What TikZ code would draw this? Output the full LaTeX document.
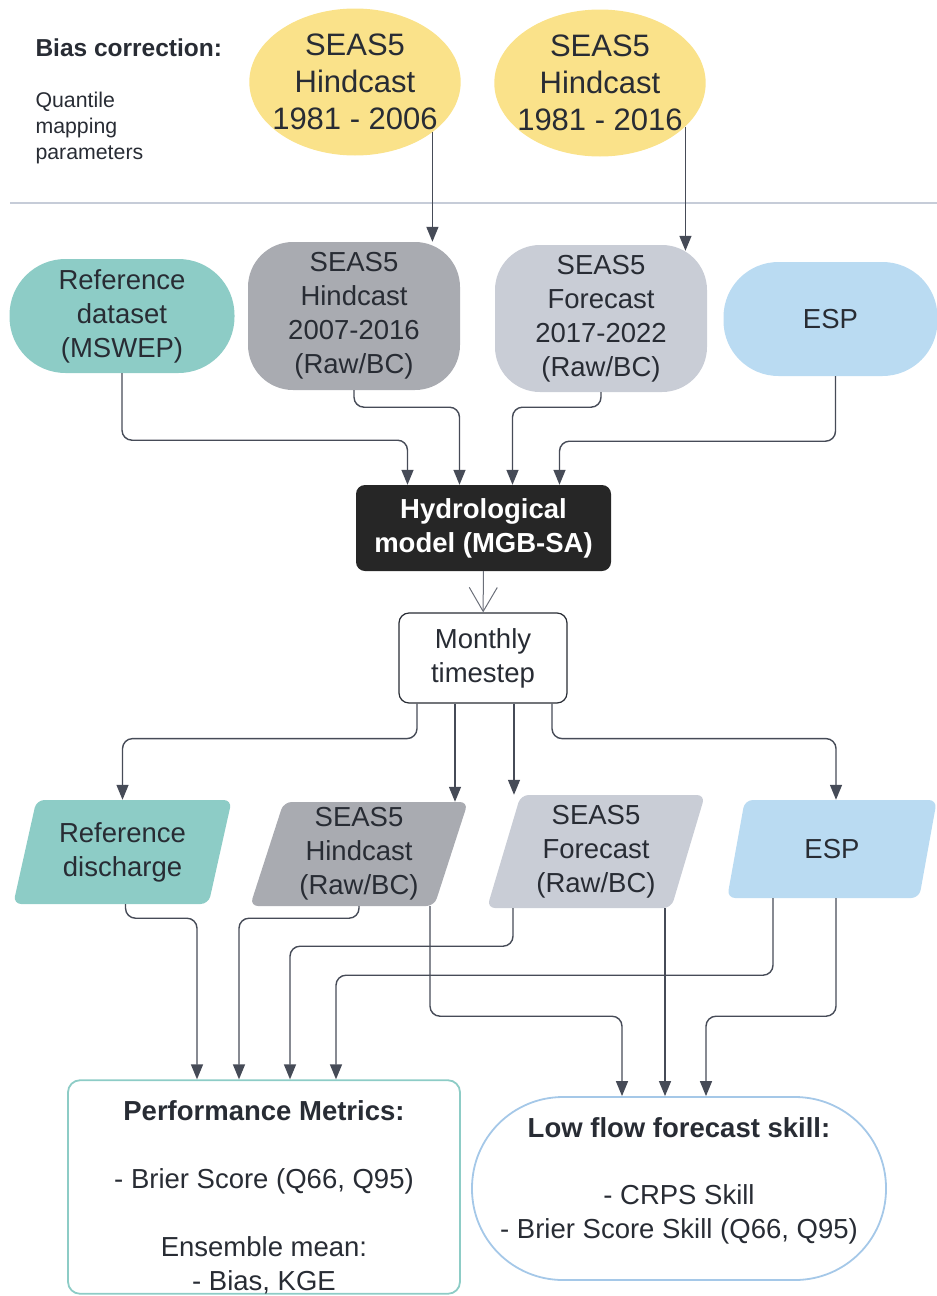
\documentclass[tikz,border=0pt]{standalone}
\usepackage{fontspec}
\setmainfont{Liberation Sans}
\usetikzlibrary{arrows.meta,shapes.geometric}
\definecolor{yelq}{RGB}{250,226,138}
\definecolor{tealq}{RGB}{141,204,198}
\definecolor{greyq}{RGB}{169,171,177}
\definecolor{lgreyq}{RGB}{201,205,214}
\definecolor{blueq}{RGB}{186,219,242}
\definecolor{lblueq}{RGB}{165,200,232}
\definecolor{txtq}{RGB}{40,44,52}
\definecolor{arrq}{RGB}{70,75,87}
\definecolor{sepq}{RGB}{198,204,216}
\newcommand{\mtxt}{\fontsize{27.5}{34}\selectfont}
\tikzstyle{ocal}=[ellipse,fill=yelq,minimum height=147pt,inner xsep=-8pt,inner ysep=0pt,align=center,text=txtq,font=\fontsize{31}{37}\selectfont]
\tikzstyle{idata}=[rectangle,inner sep=0pt,align=center,text=txtq,font=\mtxt]
\tikzstyle{odata}=[trapezium,trapezium left angle=74,trapezium right angle=106,trapezium stretches=true,rounded corners=8pt,inner sep=0pt,align=center,text=txtq,font=\mtxt]
\tikzstyle{flow}=[-{Triangle[length=15pt,width=12pt]},draw=arrq,line width=1.4pt,rounded corners=10pt]

\begin{document}
\begin{tikzpicture}[x=1pt,y=1pt]
\useasboundingbox (0,0) rectangle (937,-1296);
% bias correction
\node[anchor=west,text=txtq,font=\fontsize{24.5}{30}\selectfont\bfseries] (bias) at (32,-48) {Bias correction:};
\node[anchor=west,align=left,text=txtq,font=\fontsize{21.3}{26}\selectfont] (qmap) at (32,-128) {Quantile\\mapping\\parameters};
\node[ocal] (hc1) at (355,-82) {SEAS5\\Hindcast\\1981 - 2006};
\node[ocal] (hc2) at (600,-83) {SEAS5\\Hindcast\\1981 - 2016};
\draw[sepq,line width=2.8pt] (10,-203) -- (937,-203);
% inputs
\node[idata,fill=tealq,rounded corners=56pt,minimum width=225pt,minimum height=114pt] (refd) at (122,-316) {Reference\\dataset\\(MSWEP)};
\node[idata,fill=greyq,rounded corners=45pt,minimum width=212pt,minimum height=148pt] (hd) at (354,-316) {SEAS5\\Hindcast\\2007-2016\\(Raw/BC)};
\node[idata,fill=lgreyq,rounded corners=45pt,minimum width=212pt,minimum height=147pt] (fd) at (601,-318.5) {SEAS5\\Forecast\\2017-2022\\(Raw/BC)};
\node[idata,fill=blueq,rounded corners=55pt,minimum width=214pt,minimum height=114pt] (espd) at (830.5,-319) {ESP};
\draw[flow] (hc1.-33) -- (hc1.-33 |- hd.north);
\draw[flow] (hc2.-27) -- ([yshift=-6pt]hc2.-27 |- fd.north);
% model
\node[idata,fill=black!85,text=white,font=\mtxt\bfseries,rounded corners=9pt,minimum width=255pt,minimum height=86pt] (hydro) at (483.5,-528) {Hydrological\\model (MGB-SA)};
\node[idata,draw=txtq,line width=1.2pt,fill=white,rounded corners=10pt,minimum width=168pt,minimum height=90pt] (mon) at (483,-658) {Monthly\\timestep};
\draw[flow] (refd.south) -- ++(0,-67) -| ([xshift=-76pt]hydro.north);
\draw[flow] (hd.south) -- ++(0,-17) -| ([xshift=-24pt]hydro.north);
\draw[flow] (fd.south) -- ++(0,-15) -| ([xshift=29pt]hydro.north);
\draw[flow] ([xshift=5pt]espd.south) -- ++(0,-65) -| ([xshift=76pt]hydro.north);
\draw[-{Straight Barb[length=24pt,width=28pt,line width=1pt]},arrq!80,line width=1pt] (hydro) -- (mon);
% outputs
\node[odata,fill=tealq,minimum width=219pt,minimum height=104pt] (refq) at (122.5,-852) {Reference\\discharge};
\node[odata,fill=greyq,minimum width=218pt,minimum height=104pt] (hindq) at (359,-854) {SEAS5\\Hindcast\\(Raw/BC)};
\node[odata,fill=lgreyq,minimum width=218pt,minimum height=113pt] (foreq) at (596,-851.5) {SEAS5\\Forecast\\(Raw/BC)};
\node[odata,fill=blueq,minimum width=210pt,minimum height=98pt] (espq) at (832,-849) {ESP};
\draw[flow] ([xshift=-66pt]mon.south) -- ++(0,-35) -| (refq.north);
\draw[flow] ([xshift=-28pt]mon.south) -- ([xshift=-28pt]mon.south |- hindq.north);
\draw[flow] ([xshift=31pt]mon.south) -- ([xshift=31pt]mon.south |- foreq.north);
\draw[flow] ([xshift=69pt]mon.south) -- ++(0,-35) -| ([xshift=4pt]espq.north);
% metrics
\node[idata,draw=tealq,line width=1.8pt,rounded corners=12pt,minimum width=392pt,minimum height=213pt] (perf) at (264,-1187) {\rule{0pt}{40pt}\textbf{Performance Metrics:}\\[34pt]- Brier Score (Q66, Q95)\\[34pt]Ensemble mean:\\- Bias, KGE};
\node[idata,draw=lblueq,line width=1.8pt,rounded corners=91pt,minimum width=414pt,minimum height=183pt] (lowq) at (679,-1188.5) {\textbf{Low flow forecast skill:}\\[33pt]- CRPS Skill\\- Brier Score Skill (Q66, Q95)\\[-14pt]};
\draw[flow] ([xshift=3pt]refq.south) -- ++(0,-14) -| ([xshift=-67pt]perf.north);
\draw[flow] (hindq.south) -- ++(0,-12) -| ([xshift=-25pt]perf.north);
\draw[flow] ([xshift=-83pt]foreq.south) -- ++(0,-38) -| ([xshift=26pt]perf.north);
\draw[flow] ([xshift=-59pt]espq.south) -- ++(0,-77) -| ([xshift=72pt]perf.north);
\draw[flow] ([xshift=71pt]hindq.south) -- ++(0,-110) -| ([xshift=-57pt]lowq.north);
\draw[flow] ([xshift=69pt]foreq.south) -- ([xshift=69pt]foreq.south |- lowq.north);
\draw[flow] ([xshift=4pt]espq.south) -- ++(0,-118) -| ([xshift=27pt]lowq.north);
\end{tikzpicture}
\end{document}
